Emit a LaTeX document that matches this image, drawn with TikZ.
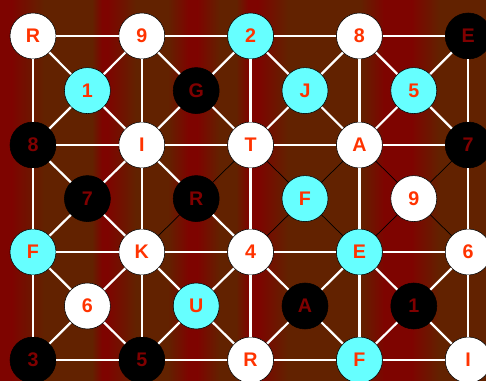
\documentclass[tikz,border=0pt]{standalone}
\usepackage{fontspec}
\setmainfont{Liberation Sans}
\usepackage{tikz}

\definecolor{boardred}{RGB}{126,4,0}
\definecolor{boardbrown}{RGB}{98,34,0}
\definecolor{letterred}{RGB}{255,51,0}
\definecolor{darkletter}{RGB}{128,0,0}
\definecolor{aqua}{RGB}{102,255,255}

\begin{document}
\begin{tikzpicture}[
    every node/.style={font=\fontsize{14}{16}\selectfont\bfseries},
    wnode/.style={circle, draw=black, fill=white, text=letterred, minimum size=1.15cm, inner sep=0pt},
    cnode/.style={wnode, fill=aqua},
    bnode/.style={wnode, fill=black, text=darkletter},
    link/.style={draw=white, line width=1.6pt},
    thinlink/.style={draw=black, line width=0.5pt}
]
    \useasboundingbox (0,0) rectangle (12.15,9.525);
    % striped board
    \fill[boardbrown] (0,0) rectangle (12.15,9.525);
    \fill[boardred] (0,0) rectangle (0.3,9.525);
    \shade[left color=boardred, right color=boardbrown] (0.29,0) rectangle (1.1,9.525);
    \shade[left color=boardbrown, right color=boardred] (2.3,0) rectangle (2.55,9.525);
    \fill[boardred] (2.54,0) rectangle (2.7,9.525);
    \shade[left color=boardred, right color=boardbrown] (2.69,0) rectangle (3.4,9.525);
    \shade[left color=boardbrown, right color=boardred] (4.2,0) rectangle (4.7,9.525);
    \fill[boardred] (4.69,0) rectangle (4.95,9.525);
    \shade[left color=boardred, right color=boardbrown] (4.94,0) rectangle (5.5,9.525);
    \shade[left color=boardbrown, right color=boardred] (5.9,0) rectangle (6.2,9.525);
    \fill[boardred] (6.19,0) rectangle (6.45,9.525);
    \shade[left color=boardred, right color=boardbrown] (6.44,0) rectangle (7.2,9.525);
    \shade[left color=boardbrown, right color=boardred] (9.0,0) rectangle (9.6,9.525);
    \fill[boardred] (9.59,0) rectangle (10.3,9.525);
    \shade[left color=boardred, right color=boardbrown] (10.29,0) rectangle (11.0,9.525);

    % outer grid
    \node[wnode] (a1) at (0.825,8.625) {R};
    \node[wnode] (a2) at (3.545,8.625) {9};
    \node[cnode] (a3) at (6.265,8.625) {2};
    \node[wnode] (a4) at (8.985,8.625) {8};
    \node[bnode] (a5) at (11.705,8.625) {E};

    \node[bnode] (b1) at (0.825,5.9) {8};
    \node[wnode] (b2) at (3.545,5.9) {I};
    \node[wnode] (b3) at (6.265,5.9) {T};
    \node[wnode] (b4) at (8.985,5.9) {A};
    \node[bnode] (b5) at (11.705,5.9) {7};

    \node[cnode] (c1) at (0.825,3.225) {F};
    \node[wnode] (c2) at (3.545,3.225) {K};
    \node[wnode] (c3) at (6.265,3.225) {4};
    \node[cnode] (c4) at (8.985,3.225) {E};
    \node[wnode] (c5) at (11.705,3.225) {6};

    \node[bnode] (d1) at (0.825,0.525) {3};
    \node[bnode] (d2) at (3.545,0.525) {5};
    \node[wnode] (d3) at (6.265,0.525) {R};
    \node[cnode] (d4) at (8.985,0.525) {F};
    \node[wnode] (d5) at (11.705,0.525) {I};

    % cell centres
    \node[cnode] (p1) at (2.185,7.26) {1};
    \node[bnode] (p2) at (4.905,7.26) {G};
    \node[cnode] (p3) at (7.625,7.26) {J};
    \node[cnode] (p4) at (10.345,7.26) {5};

    \node[bnode] (q1) at (2.185,4.56) {7};
    \node[bnode] (q2) at (4.905,4.56) {R};
    \node[cnode] (q3) at (7.625,4.56) {F};
    \node[wnode] (q4) at (10.345,4.56) {9};

    \node[wnode] (s1) at (2.185,1.875) {6};
    \node[cnode] (s2) at (4.905,1.875) {U};
    \node[bnode] (s3) at (7.625,1.875) {A};
    \node[bnode] (s4) at (10.345,1.875) {1};

    % rows and columns
    \draw[link] (a1) -- (a2) -- (a3) -- (a4) -- (a5);
    \draw[link] (b1) -- (b2) -- (b3) -- (b4) -- (b5);
    \draw[link] (c1) -- (c2) -- (c3) -- (c4) -- (c5);
    \draw[link] (d1) -- (d2) -- (d3) -- (d4) -- (d5);
    \draw[link] (a1) -- (b1) -- (c1) -- (d1);
    \draw[link] (a2) -- (b2) -- (c2) -- (d2);
    \draw[link] (a3) -- (b3) -- (c3) -- (d3);
    \draw[link] (a4) -- (b4) -- (c4) -- (d4);
    \draw[link] (a5) -- (b5) -- (c5) -- (d5);

    % diagonals
    \draw[link] (a1) -- (p1) -- (b2);
    \draw[link] (a2) -- (p1) -- (b1);
    \draw[link] (a2) -- (p2) -- (b3);
    \draw[link] (a3) -- (p2) -- (b2);
    \draw[link] (a3) -- (p3) -- (b4);
    \draw[link] (a4) -- (p3) -- (b3);
    \draw[link] (a4) -- (p4) -- (b5);
    \draw[link] (a5) -- (p4) -- (b4);

    \draw[link] (b1) -- (q1) -- (c2);
    \draw[link] (b2) -- (q1) -- (c1);
    \draw[link] (b2) -- (q2) -- (c3);
    \draw[thinlink] (b3) -- (q2) -- (c2);
    \draw[thinlink] (b3) -- (q3) -- (c4);
    \draw[thinlink] (b4) -- (q3) -- (c3);
    \draw[thinlink] (b4) -- (q4) -- (c5);
    \draw[thinlink] (b5) -- (q4) -- (c4);

    \draw[link] (c1) -- (s1) -- (d2);
    \draw[link] (c2) -- (s1) -- (d1);
    \draw[link] (c2) -- (s2) -- (d3);
    \draw[link] (c3) -- (s2) -- (d2);
    \draw[link] (c3) -- (s3) -- (d4);
    \draw[link] (c4) -- (s3) -- (d3);
    \draw[link] (c4) -- (s4) -- (d5);
    \draw[link] (c5) -- (s4) -- (d4);
\end{tikzpicture}
\end{document}
